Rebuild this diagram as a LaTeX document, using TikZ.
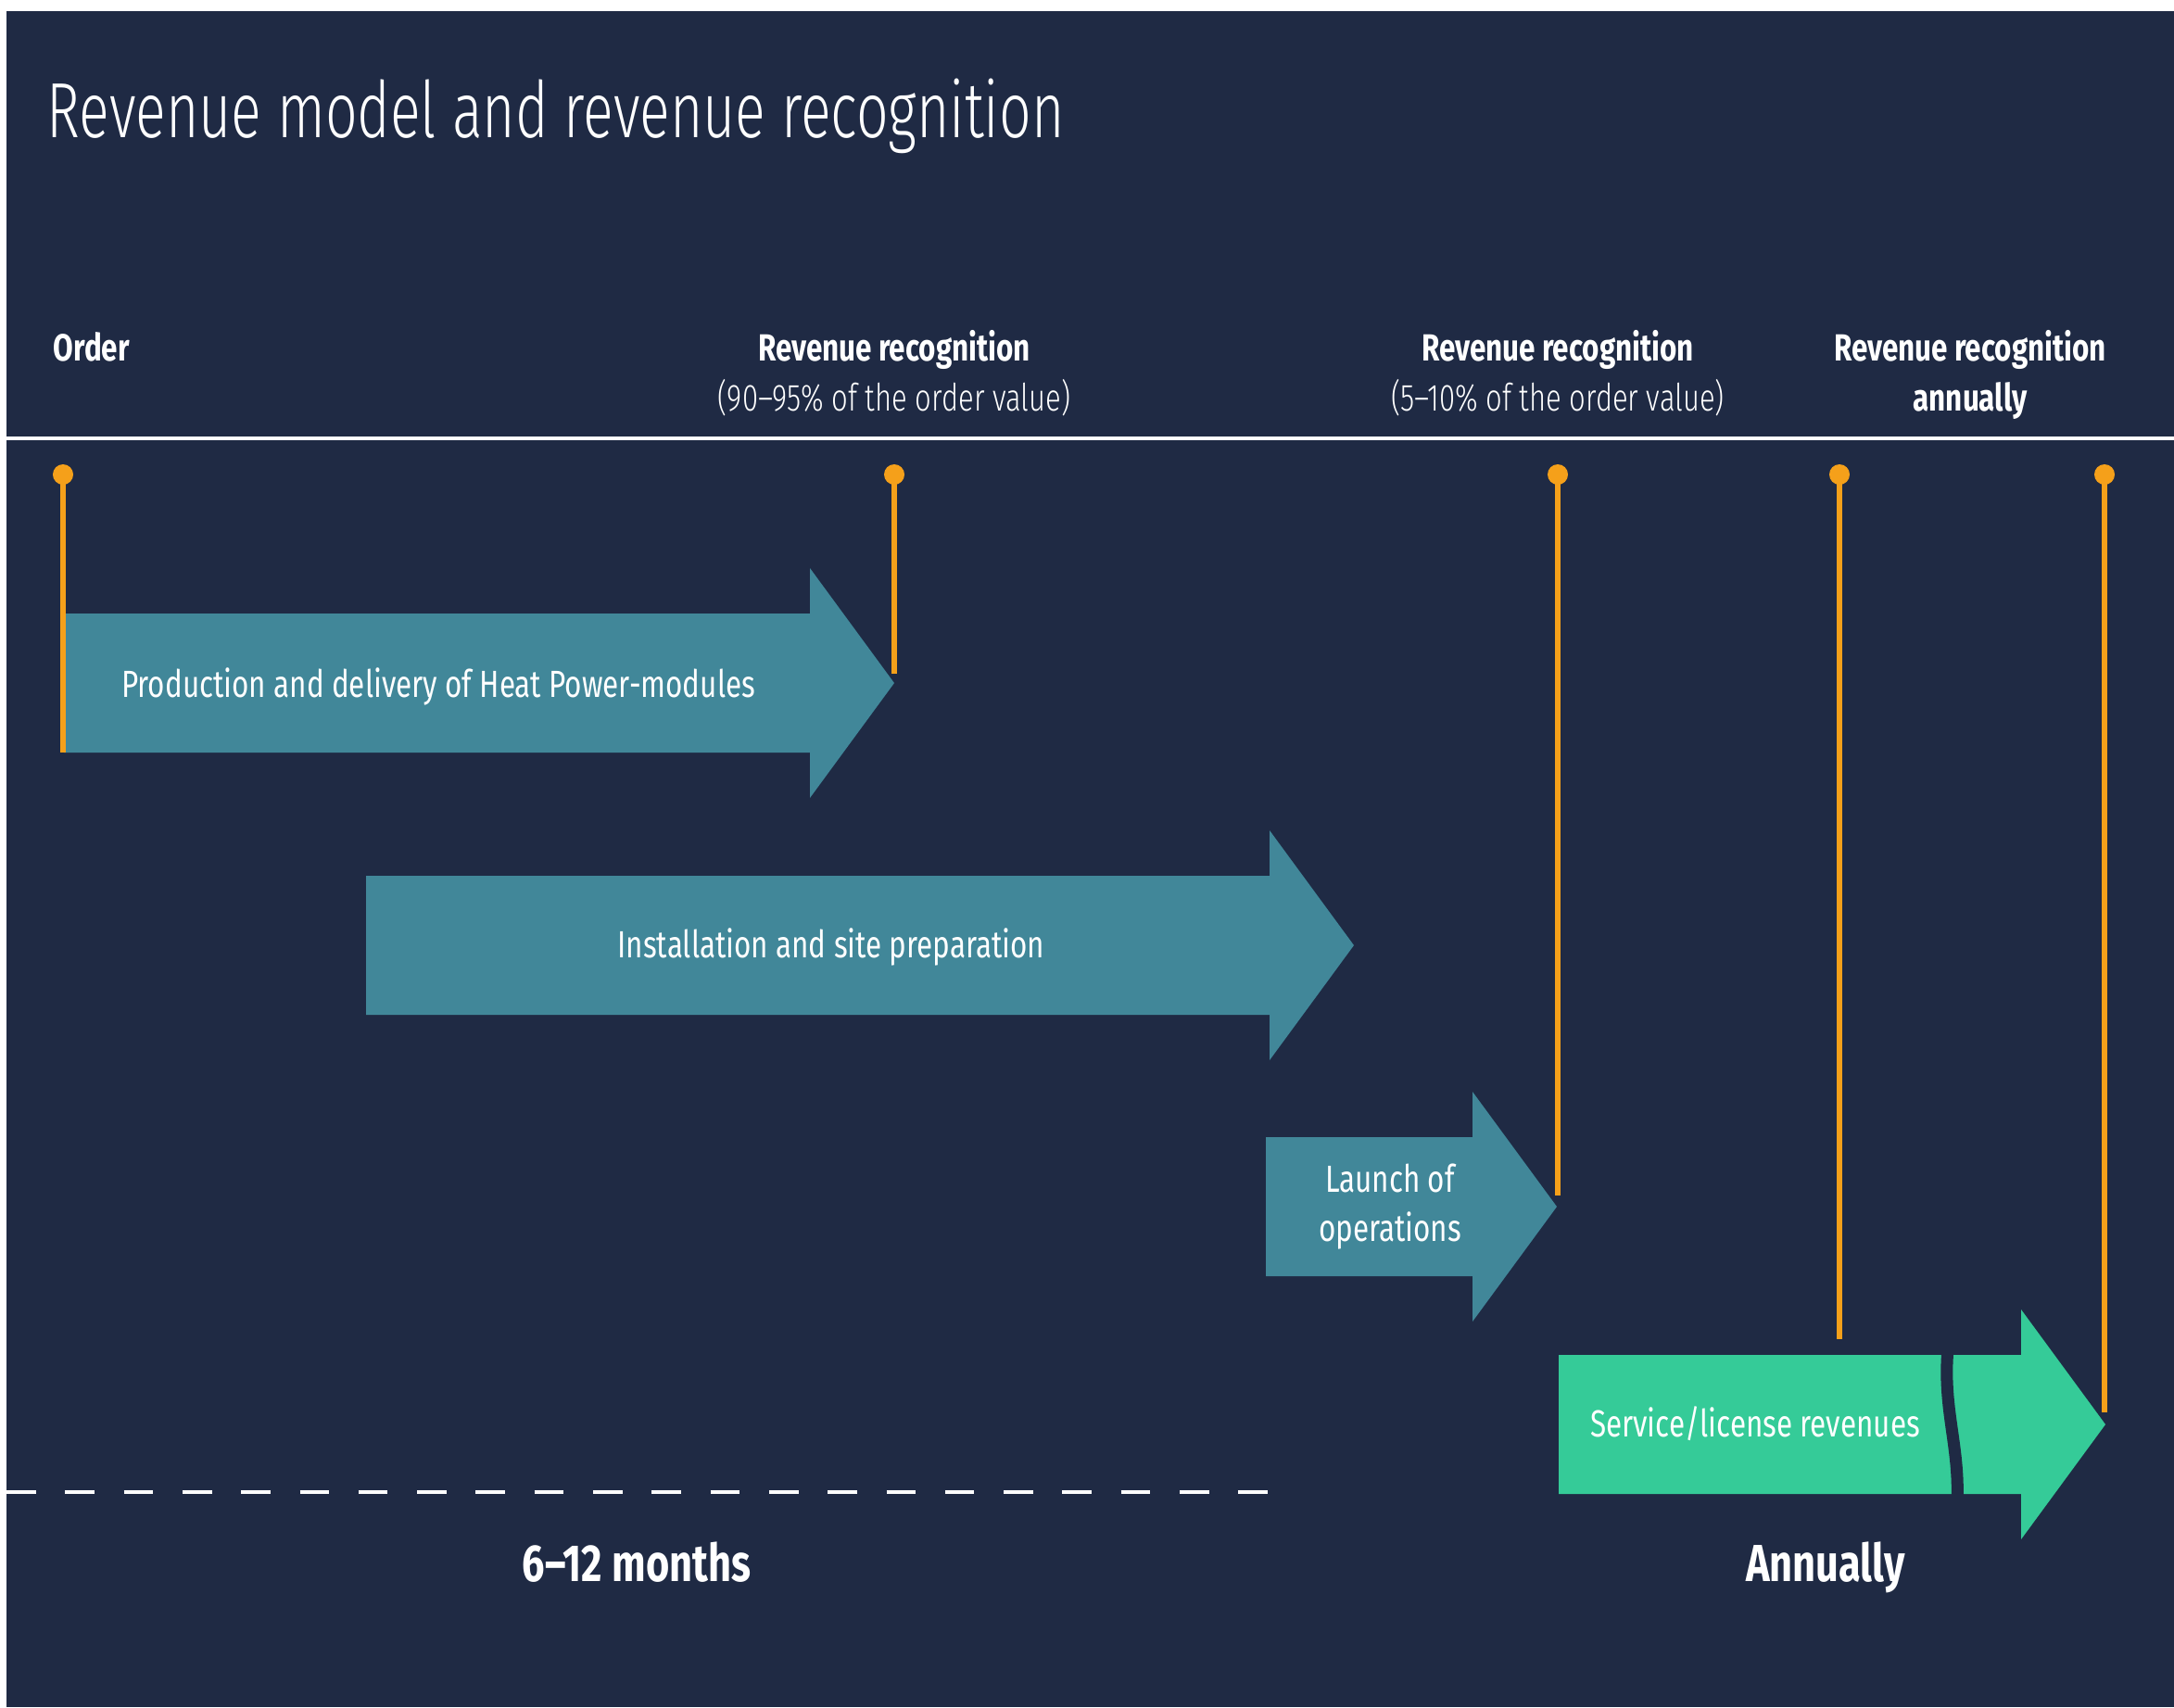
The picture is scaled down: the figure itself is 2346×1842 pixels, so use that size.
\documentclass[tikz,border=0pt]{standalone}
\usepackage{fontspec}
\setmainfont{Fira Sans}[FakeStretch=0.77]
\newfontfamily\lightfont{Fira Sans Light}[FakeStretch=0.76]
\newfontfamily\titlefont{Fira Sans Light}[FakeStretch=0.72]
\usetikzlibrary{arrows.meta}
\definecolor{c0}{HTML}{1F2A44}
\definecolor{c1}{HTML}{418799}
\definecolor{c2}{HTML}{35CB98}
\definecolor{c3}{HTML}{F5A01A}
\tikzset{%
  point/.style={circle,inner sep=0pt,minimum size=0.22cm,fill=#1},
  point/.default=c3,
  tick/.style={c3,line width=1.5pt},
  head/.style={font=\fontsize{11.6}{15.4}\selectfont\bfseries},
  sub/.style={font=\lightfont\fontsize{11.6}{15.4}\selectfont},
  phase/.style={font=\fontsize{11.6}{15}\selectfont,align=center},
  span/.style={font=\fontsize{16}{19}\selectfont\bfseries}
}
% block arrow: fill, left end, start of head, middle line
\NewDocumentCommand\phaseArrow{O{c1}mmm}{%
  \fill[#1] (#2,#4-75) -- (#3,#4-75) -- (#3,#4-124) -- (#3+91,#4)
    -- (#3,#4+124) -- (#3,#4+75) -- (#2,#4+75) -- cycle;
}
\begin{document}
\begin{tikzpicture}[x=0.01cm,y=-0.01cm,every node/.style={text=white,inner sep=0pt}]
  \useasboundingbox (0,0) rectangle (2346,1842);
  \fill[white] (0,0) rectangle (2346,1842);
  \fill[c0] (7,12) rectangle (2346,1842);
  % Title
  \node[anchor=base west,font=\titlefont\fontsize{24}{28}\selectfont] (title) at (50,148)
    {Revenue model and revenue recognition};
  % Milestone heads
  \node[head,anchor=base west] (lOrder) at (57,389) {Order};
  \node[head,anchor=base] (lFirst) at (965,389) {Revenue recognition};
  \node[sub,anchor=base] (lFirstSub) at (965,443) {(90–95\% of the order value)};
  \node[head,anchor=base] (lSecond) at (1681,389) {Revenue recognition};
  \node[sub,anchor=base] (lSecondSub) at (1681,443) {(5–10\% of the order value)};
  \node[head,anchor=base] (lAnnual) at (2126,389) {Revenue recognition};
  \node[head,anchor=base] (lAnnualSub) at (2126,443) {annually};
  \draw[white,line width=0.9pt] (7,473) -- (2346,473);
  % Phases
  \phaseArrow{69}{874}{737}
  \phaseArrow{395}{1370}{1020}
  \phaseArrow{1366}{1589}{1302}
  \phaseArrow[c2]{1682}{2181}{1537}
  \draw[c0,line width=0.13cm] (2102,1455) .. controls (2096,1520) and (2115,1560) .. (2112,1622);
  \node[phase,anchor=base] (pProd) at (473,752) {Production and delivery of Heat Power-modules};
  \node[phase,anchor=base] (pInst) at (897,1033) {Installation and site preparation};
  \node[phase] (pLaunch) at (1500,1302) {Launch of\\operations};
  \node[phase,anchor=base] (pService) at (1894,1550) {Service/license revenues};
  % Milestone ticks
  \foreach \n/\x/\y in {Order/68/812,First/965/727,Second/1681/1290,AnnualA/1985/1445,AnnualB/2271/1524}{
    \node[point] (d\n) at (\x,512) {};
    \coordinate (e\n) at (\x,\y);
    \draw[tick] (d\n.center) -- (e\n);
  }
  % Time spans
  \draw[white,line width=1pt,dash pattern=on 9pt off 9pt] (7,1610) -- (1368,1610);
  \node[span,anchor=base] (sMonths) at (687,1706) {6–12 months};
  \node[span,anchor=base] (sAnnual) at (1970,1706) {Annually};
\end{tikzpicture}
\end{document}
